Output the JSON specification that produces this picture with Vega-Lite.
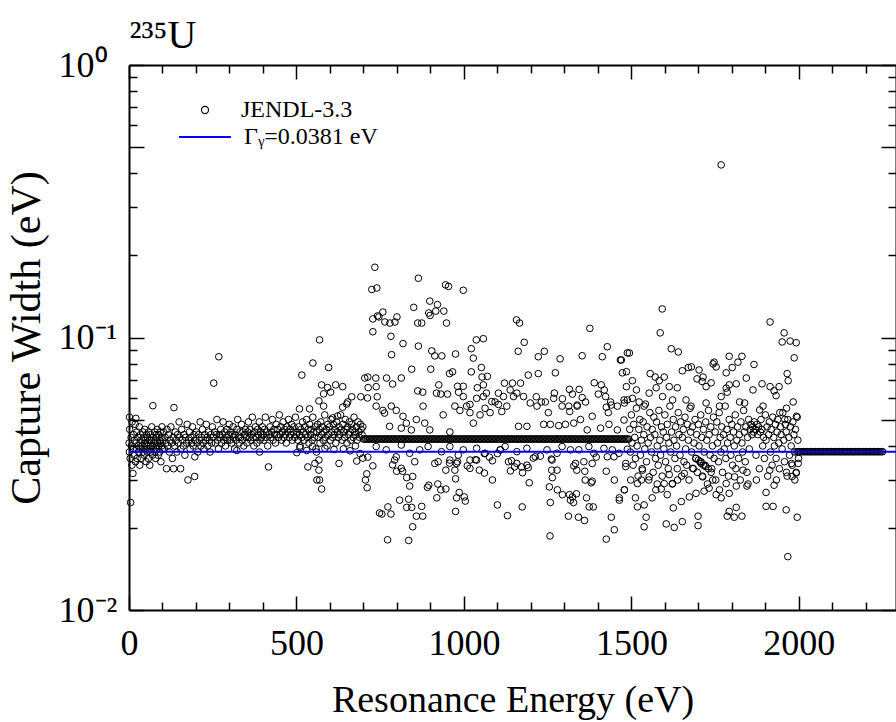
{
"$schema": "https://vega.github.io/schema/vega-lite/v6.json",
"width": 767, "height": 545,
"autosize": "none",
"padding": {"left": 129, "top": 65, "right": 0, "bottom": 112},
"background": "white",
"config": {
 "view": {"stroke": null},
 "axis": {"grid": false, "domainColor": "black", "domainWidth": 2, "tickColor": "black", "tickWidth": 1.5, "labelFont": "Liberation Serif", "titleFont": "Liberation Serif", "labelColor": "black", "titleColor": "black", "titleFontWeight": "normal", "labelFlush": false, "labelOverlap": false, "labelBound": false},
 "legend": {"labelFont": "Liberation Serif", "labelColor": "black", "labelFontSize": 24, "title": null, "padding": 0}
},
"datasets": {"pts": [
{"e":0.3,"g":0.041},{"e":1.1,"g":0.038},{"e":1.5,"g":0.051},{"e":2.0,"g":0.046},{"e":3.6,"g":0.036},{"e":4.8,"g":0.0248},{"e":6.4,"g":0.043},{"e":7.1,"g":0.040},{"e":8.8,"g":0.034},{"e":9.3,"g":0.049},{"e":11.7,"g":0.0317},{"e":12.4,"g":0.039},{"e":13.3,"g":0.044},{"e":15.4,"g":0.037},{"e":16.1,"g":0.042},{"e":18.5,"g":0.048},{"e":19.3,"g":0.035},{"e":20.5,"g":0.0505},{"e":21.1,"g":0.041},{"e":22.9,"g":0.039},{"e":23.4,"g":0.045},{"e":24.3,"g":0.036},{"e":26.5,"g":0.043},{"e":27.8,"g":0.040},{"e":28.7,"g":0.038},{"e":30.6,"g":0.047},{"e":32.1,"g":0.034},{"e":33.5,"g":0.041},{"e":34.4,"g":0.044},{"e":35.2,"g":0.039},{"e":36.4,"g":0.036},{"e":38.4,"g":0.042},{"e":39.4,"g":0.040},{"e":41.1,"g":0.045},{"e":41.9,"g":0.038},{"e":44.5,"g":0.043},{"e":45.2,"g":0.037},{"e":46.5,"g":0.041},{"e":47.0,"g":0.046},{"e":48.3,"g":0.039},{"e":49.4,"g":0.042},{"e":51.1,"g":0.035},{"e":52.3,"g":0.044},{"e":53.5,"g":0.040},{"e":54.3,"g":0.038},{"e":55.2,"g":0.043},{"e":56.5,"g":0.041},{"e":57.9,"g":0.036},{"e":58.7,"g":0.045},{"e":60.1,"g":0.039},{"e":61.1,"g":0.042},{"e":62.0,"g":0.034},{"e":63.5,"g":0.040},{"e":64.3,"g":0.044},{"e":65.3,"g":0.038},{"e":66.5,"g":0.042},{"e":67.8,"g":0.047},{"e":69.2,"g":0.040},{"e":70.2,"g":0.037},{"e":71.2,"g":0.0562},{"e":72.5,"g":0.043},{"e":73.7,"g":0.039},{"e":74.7,"g":0.041},{"e":76.6,"g":0.045},{"e":77.3,"g":0.038},{"e":78.2,"g":0.042},{"e":79.6,"g":0.036},{"e":80.7,"g":0.044},{"e":81.6,"g":0.040},{"e":82.7,"g":0.043},{"e":83.8,"g":0.039},{"e":84.3,"g":0.046},{"e":85.7,"g":0.041},{"e":87.4,"g":0.037},{"e":88.5,"g":0.044},{"e":89.1,"g":0.040},{"e":90.9,"g":0.042},{"e":91.8,"g":0.038},{"e":93.1,"g":0.045},{"e":94.1,"g":0.041},{"e":95.3,"g":0.035},{"e":96.2,"g":0.043},{"e":97.4,"g":0.040},{"e":98.5,"g":0.047},{"e":99.4,"g":0.039},
{"e":101.2,"g":0.042},{"e":103.5,"g":0.045},{"e":105.1,"g":0.039},{"e":107.9,"g":0.043},{"e":110.5,"g":0.041},{"e":112,"g":0.033},{"e":113.6,"g":0.046},{"e":115.8,"g":0.040},{"e":118.2,"g":0.044},{"e":120.5,"g":0.038},{"e":122.8,"g":0.042},{"e":124.9,"g":0.047},{"e":127.1,"g":0.041},{"e":129.5,"g":0.036},{"e":131.4,"g":0.043},{"e":133,"g":0.033},{"e":134.2,"g":0.0553},{"e":136.3,"g":0.040},{"e":138.1,"g":0.045},{"e":140.7,"g":0.042},{"e":142.9,"g":0.038},{"e":145,"g":0.044},{"e":147.3,"g":0.041},{"e":149.6,"g":0.049},
{"e":151.6,"g":0.043},{"e":154,"g":0.033},{"e":155.1,"g":0.039},{"e":157.4,"g":0.046},{"e":159.8,"g":0.042},{"e":162.2,"g":0.040},{"e":164.5,"g":0.044},{"e":166.9,"g":0.037},{"e":169.2,"g":0.043},{"e":171.6,"g":0.041},{"e":173.8,"g":0.048},{"e":176,"g":0.030},{"e":177.9,"g":0.042},{"e":180.3,"g":0.045},{"e":182.6,"g":0.039},{"e":184.8,"g":0.043},{"e":187.1,"g":0.041},{"e":189.5,"g":0.047},{"e":191.7,"g":0.040},{"e":194,"g":0.044},{"e":196,"g":0.0309},{"e":196.5,"g":0.0365},{"e":198.3,"g":0.042},
{"e":200.8,"g":0.045},{"e":203.1,"g":0.041},{"e":205.5,"g":0.038},{"e":207.7,"g":0.044},{"e":210.1,"g":0.042},{"e":212.4,"g":0.049},{"e":214.6,"g":0.040},{"e":216.9,"g":0.043},{"e":219.3,"g":0.046},{"e":221.5,"g":0.041},{"e":223.8,"g":0.039},{"e":226.2,"g":0.044},{"e":228.4,"g":0.042},{"e":230.7,"g":0.048},{"e":233,"g":0.043},{"e":235.3,"g":0.040},{"e":237.6,"g":0.045},{"e":239.9,"g":0.042},{"e":242.1,"g":0.038},{"e":244.5,"g":0.044},{"e":246.8,"g":0.041},{"e":249,"g":0.047},
{"e":251.3,"g":0.043},{"e":253,"g":0.068},{"e":255.7,"g":0.045},{"e":258,"g":0.041},{"e":260.3,"g":0.044},{"e":262.5,"g":0.050},{"e":264.9,"g":0.042},{"e":267.1,"g":0.039},{"e":268,"g":0.085},{"e":269.5,"g":0.044},{"e":271.8,"g":0.043},{"e":274.1,"g":0.046},{"e":276.4,"g":0.041},{"e":278.6,"g":0.044},{"e":281,"g":0.049},{"e":283.2,"g":0.042},{"e":285.6,"g":0.045},{"e":287.8,"g":0.040},{"e":290.1,"g":0.043},{"e":292.5,"g":0.046},{"e":294.8,"g":0.042},{"e":297,"g":0.044},{"e":299.3,"g":0.048},
{"e":301.6,"g":0.042},{"e":303.9,"g":0.045},{"e":306.2,"g":0.041},{"e":308.4,"g":0.044},{"e":310.8,"g":0.047},{"e":313,"g":0.043},{"e":315.3,"g":0.039},{"e":317.6,"g":0.044},{"e":319.9,"g":0.042},{"e":322,"g":0.0385},{"e":322.2,"g":0.046},{"e":324.5,"g":0.050},{"e":326.8,"g":0.043},{"e":329.1,"g":0.041},{"e":331.4,"g":0.045},{"e":333.7,"g":0.043},{"e":336,"g":0.048},{"e":338.3,"g":0.042},{"e":340.6,"g":0.045},{"e":342.8,"g":0.040},{"e":345.1,"g":0.044},{"e":347.5,"g":0.046},
{"e":349.8,"g":0.043},{"e":352.1,"g":0.041},{"e":354.4,"g":0.045},{"e":356.7,"g":0.049},{"e":359,"g":0.043},{"e":361.3,"g":0.046},{"e":363.6,"g":0.042},{"e":365.9,"g":0.044},{"e":368.2,"g":0.051},{"e":370.5,"g":0.043},{"e":372.8,"g":0.040},{"e":375.1,"g":0.045},{"e":377.4,"g":0.047},{"e":379.7,"g":0.043},{"e":382,"g":0.041},{"e":384.3,"g":0.046},{"e":386.6,"g":0.044},{"e":388.9,"g":0.049},{"e":390,"g":0.038},{"e":391.2,"g":0.042},{"e":393.5,"g":0.045},{"e":395.8,"g":0.043},{"e":398.1,"g":0.047},
{"e":400.4,"g":0.044},{"e":402.7,"g":0.042},{"e":405,"g":0.046},{"e":407.3,"g":0.051},{"e":409.6,"g":0.043},{"e":411.9,"g":0.045},{"e":414.2,"g":0.040},{"e":416.5,"g":0.0335},{"e":418.8,"g":0.044},{"e":421.1,"g":0.047},{"e":423.4,"g":0.043},{"e":425.7,"g":0.045},{"e":428,"g":0.050},{"e":430.3,"g":0.042},{"e":432.6,"g":0.046},{"e":434.9,"g":0.044},{"e":437.2,"g":0.041},{"e":439.5,"g":0.048},{"e":441.8,"g":0.044},{"e":444.1,"g":0.046},{"e":446.4,"g":0.043},{"e":448.7,"g":0.052},
{"e":451,"g":0.044},{"e":453.3,"g":0.047},{"e":455.6,"g":0.042},{"e":457.9,"g":0.045},{"e":460.2,"g":0.049},{"e":462.5,"g":0.043},{"e":464.8,"g":0.046},{"e":467.1,"g":0.044},{"e":469.4,"g":0.041},{"e":471.7,"g":0.047},{"e":474,"g":0.045},{"e":476.3,"g":0.050},{"e":478.6,"g":0.043},{"e":480.9,"g":0.046},{"e":483.2,"g":0.044},{"e":485.5,"g":0.048},{"e":487.8,"g":0.042},{"e":490.1,"g":0.045},{"e":492.4,"g":0.047},{"e":494.7,"g":0.043},{"e":497,"g":0.051},{"e":499.3,"g":0.044},{"e":501,"g":0.0378},
{"e":501.5,"g":0.045},{"e":504,"g":0.042},{"e":506.3,"g":0.047},{"e":508.8,"g":0.044},{"e":510,"g":0.0395},{"e":511,"g":0.040},{"e":513.4,"g":0.046},{"e":515.9,"g":0.043},{"e":518.1,"g":0.049},{"e":520.6,"g":0.045},{"e":523,"g":0.042},{"e":525.3,"g":0.047},{"e":527.7,"g":0.044},{"e":530,"g":0.050},{"e":530.5,"g":0.0385},{"e":532.5,"g":0.043},{"e":534.8,"g":0.046},{"e":537.1,"g":0.041},{"e":539.5,"g":0.048},{"e":541.9,"g":0.044},{"e":544.2,"g":0.046},{"e":546.6,"g":0.042},{"e":548,"g":0.0398},{"e":549,"g":0.051},{"e":551.3,"g":0.045},{"e":553.7,"g":0.043},{"e":556,"g":0.047},{"e":558.4,"g":0.039},{"e":560,"g":0.038},{"e":560.8,"g":0.045},{"e":563.1,"g":0.048},{"e":565.5,"g":0.043},{"e":567.9,"g":0.046},{"e":570.2,"g":0.041},{"e":572.6,"g":0.049},{"e":575,"g":0.044},{"e":577.3,"g":0.047},{"e":579.7,"g":0.042},{"e":582,"g":0.045},{"e":584.4,"g":0.052},{"e":585,"g":0.0392},{"e":586.8,"g":0.043},{"e":589.1,"g":0.046},{"e":591.5,"g":0.040},{"e":593.8,"g":0.048},{"e":596.2,"g":0.044},{"e":598.6,"g":0.047},{"e":601,"g":0.042},{"e":603.3,"g":0.050},{"e":605.7,"g":0.045},{"e":608,"g":0.043},{"e":610.4,"g":0.048},{"e":612,"g":0.0388},{"e":612.8,"g":0.044},{"e":615.1,"g":0.046},{"e":617.5,"g":0.041},{"e":619.9,"g":0.049},{"e":622.2,"g":0.045},{"e":624.6,"g":0.043},{"e":627,"g":0.047},{"e":629.3,"g":0.044},{"e":631.7,"g":0.052},{"e":634,"g":0.046},{"e":636.4,"g":0.042},{"e":638.8,"g":0.048},{"e":640,"g":0.039},{"e":641.1,"g":0.045},{"e":643.5,"g":0.043},{"e":645.9,"g":0.050},{"e":648.2,"g":0.046},{"e":650.6,"g":0.041},{"e":653,"g":0.047},{"e":655.3,"g":0.044},{"e":657.7,"g":0.049},{"e":660,"g":0.0384},{"e":660.1,"g":0.045},{"e":662.4,"g":0.042},{"e":664.8,"g":0.048},{"e":667.2,"g":0.046},{"e":669.5,"g":0.043},{"e":671.9,"g":0.051},{"e":674.3,"g":0.045},{"e":676,"g":0.040},{"e":676.6,"g":0.044},{"e":679,"g":0.047},{"e":681.4,"g":0.042},{"e":683.7,"g":0.049},{"e":686.1,"g":0.045},{"e":688.5,"g":0.043},{"e":690,"g":0.0375},{"e":690.8,"g":0.048},{"e":693.2,"g":0.046},{"e":695.6,"g":0.044},{"e":698,"g":0.047},
{"e":569,"g":0.098},{"e":549,"g":0.0806},{"e":596,"g":0.0776},{"e":516,"g":0.0728},{"e":575,"g":0.067},{"e":593,"g":0.0655},{"e":581,"g":0.0621},{"e":602,"g":0.063},{"e":617,"g":0.067},{"e":638,"g":0.066},{"e":567,"g":0.0585},{"e":581,"g":0.056},{"e":534,"g":0.0335},{"e":555,"g":0.0345},{"e":567,"g":0.0326},{"e":561,"g":0.030},{"e":567,"g":0.0355},{"e":575,"g":0.0278},{"e":569,"g":0.030},{"e":627,"g":0.0345},{"e":680,"g":0.0352},{"e":698,"g":0.0361},{"e":710,"g":0.0316},{"e":706,"g":0.030},{"e":711,"g":0.0281},{"e":728,"g":0.0338},{"e":713,"g":0.0364},{"e":748,"g":0.0227},{"e":704,"g":0.071},{"e":713,"g":0.0716},{"e":737,"g":0.071},{"e":714,"g":0.0655},{"e":738,"g":0.066},{"e":712,"g":0.060},{"e":692,"g":0.0606},{"e":741,"g":0.0606},{"e":665,"g":0.0606},{"e":650,"g":0.057},{"e":653,"g":0.058},{"e":638,"g":0.0555},{"e":623,"g":0.0515},{"e":608,"g":0.0507},{"e":509,"g":0.0547},{"e":539,"g":0.0547},
{"e":734,"g":0.181},{"e":725,"g":0.15},{"e":740,"g":0.152},{"e":728,"g":0.117},{"e":742,"g":0.12},{"e":728,"g":0.105},
{"e":700,"g":0.0424},{"e":704,"g":0.0424},{"e":708,"g":0.0424},{"e":712,"g":0.0424},{"e":716,"g":0.0424},{"e":720,"g":0.0424},{"e":724,"g":0.0424},{"e":728,"g":0.0424},{"e":732,"g":0.0424},{"e":736,"g":0.0424},{"e":740,"g":0.0424},{"e":744,"g":0.0424},{"e":748,"g":0.0424},{"e":752,"g":0.0424},{"e":756,"g":0.0424},{"e":760,"g":0.0424},{"e":764,"g":0.0424},{"e":768,"g":0.0424},{"e":772,"g":0.0424},{"e":776,"g":0.0424},{"e":780,"g":0.0424},{"e":784,"g":0.0424},{"e":788,"g":0.0424},{"e":792,"g":0.0424},{"e":796,"g":0.0424},{"e":800,"g":0.0424},{"e":804,"g":0.0424},{"e":808,"g":0.0424},{"e":812,"g":0.0424},{"e":816,"g":0.0424},{"e":820,"g":0.0424},{"e":824,"g":0.0424},{"e":828,"g":0.0424},{"e":832,"g":0.0424},{"e":836,"g":0.0424},{"e":840,"g":0.0424},{"e":844,"g":0.0424},{"e":848,"g":0.0424},{"e":852,"g":0.0424},{"e":856,"g":0.0424},{"e":860,"g":0.0424},{"e":864,"g":0.0424},{"e":868,"g":0.0424},{"e":872,"g":0.0424},{"e":876,"g":0.0424},{"e":880,"g":0.0424},{"e":884,"g":0.0424},{"e":888,"g":0.0424},{"e":892,"g":0.0424},{"e":896,"g":0.0424},{"e":900,"g":0.0424},{"e":904,"g":0.0424},{"e":908,"g":0.0424},{"e":912,"g":0.0424},{"e":916,"g":0.0424},{"e":920,"g":0.0424},{"e":924,"g":0.0424},{"e":928,"g":0.0424},{"e":932,"g":0.0424},{"e":936,"g":0.0424},{"e":940,"g":0.0424},{"e":944,"g":0.0424},{"e":948,"g":0.0424},{"e":952,"g":0.0424},{"e":956,"g":0.0424},{"e":960,"g":0.0424},{"e":964,"g":0.0424},{"e":968,"g":0.0424},{"e":972,"g":0.0424},{"e":976,"g":0.0424},{"e":980,"g":0.0424},{"e":984,"g":0.0424},{"e":988,"g":0.0424},{"e":992,"g":0.0424},{"e":996,"g":0.0424},{"e":1000,"g":0.0424},{"e":1004,"g":0.0424},{"e":1008,"g":0.0424},{"e":1012,"g":0.0424},{"e":1016,"g":0.0424},{"e":1020,"g":0.0424},{"e":1024,"g":0.0424},{"e":1028,"g":0.0424},{"e":1032,"g":0.0424},{"e":1036,"g":0.0424},{"e":1040,"g":0.0424},{"e":1044,"g":0.0424},{"e":1048,"g":0.0424},{"e":1052,"g":0.0424},{"e":1056,"g":0.0424},{"e":1060,"g":0.0424},{"e":1064,"g":0.0424},{"e":1068,"g":0.0424},{"e":1072,"g":0.0424},{"e":1076,"g":0.0424},{"e":1080,"g":0.0424},{"e":1084,"g":0.0424},{"e":1088,"g":0.0424},{"e":1092,"g":0.0424},{"e":1096,"g":0.0424},{"e":1100,"g":0.0424},{"e":1104,"g":0.0424},{"e":1108,"g":0.0424},{"e":1112,"g":0.0424},{"e":1116,"g":0.0424},{"e":1120,"g":0.0424},{"e":1124,"g":0.0424},{"e":1128,"g":0.0424},{"e":1132,"g":0.0424},{"e":1136,"g":0.0424},{"e":1140,"g":0.0424},{"e":1144,"g":0.0424},{"e":1148,"g":0.0424},{"e":1152,"g":0.0424},{"e":1156,"g":0.0424},{"e":1160,"g":0.0424},{"e":1164,"g":0.0424},{"e":1168,"g":0.0424},{"e":1172,"g":0.0424},{"e":1176,"g":0.0424},{"e":1180,"g":0.0424},{"e":1184,"g":0.0424},{"e":1188,"g":0.0424},{"e":1192,"g":0.0424},{"e":1196,"g":0.0424},{"e":1200,"g":0.0424},{"e":1204,"g":0.0424},{"e":1208,"g":0.0424},{"e":1212,"g":0.0424},{"e":1216,"g":0.0424},{"e":1220,"g":0.0424},{"e":1224,"g":0.0424},{"e":1228,"g":0.0424},{"e":1232,"g":0.0424},{"e":1236,"g":0.0424},{"e":1240,"g":0.0424},{"e":1244,"g":0.0424},{"e":1248,"g":0.0424},{"e":1252,"g":0.0424},{"e":1256,"g":0.0424},{"e":1260,"g":0.0424},{"e":1264,"g":0.0424},{"e":1268,"g":0.0424},{"e":1272,"g":0.0424},{"e":1276,"g":0.0424},{"e":1280,"g":0.0424},{"e":1284,"g":0.0424},{"e":1288,"g":0.0424},{"e":1292,"g":0.0424},{"e":1296,"g":0.0424},{"e":1300,"g":0.0424},{"e":1304,"g":0.0424},{"e":1308,"g":0.0424},{"e":1312,"g":0.0424},{"e":1316,"g":0.0424},{"e":1320,"g":0.0424},{"e":1324,"g":0.0424},{"e":1328,"g":0.0424},{"e":1332,"g":0.0424},{"e":1336,"g":0.0424},{"e":1340,"g":0.0424},{"e":1344,"g":0.0424},{"e":1348,"g":0.0424},{"e":1352,"g":0.0424},{"e":1356,"g":0.0424},{"e":1360,"g":0.0424},{"e":1364,"g":0.0424},{"e":1368,"g":0.0424},{"e":1372,"g":0.0424},{"e":1376,"g":0.0424},{"e":1380,"g":0.0424},{"e":1384,"g":0.0424},{"e":1388,"g":0.0424},{"e":1392,"g":0.0424},{"e":1396,"g":0.0424},{"e":1400,"g":0.0424},{"e":1404,"g":0.0424},{"e":1408,"g":0.0424},{"e":1412,"g":0.0424},{"e":1416,"g":0.0424},{"e":1420,"g":0.0424},{"e":1424,"g":0.0424},{"e":1428,"g":0.0424},{"e":1432,"g":0.0424},{"e":1436,"g":0.0424},{"e":1440,"g":0.0424},{"e":1444,"g":0.0424},{"e":1448,"g":0.0424},{"e":1452,"g":0.0424},{"e":1456,"g":0.0424},{"e":1460,"g":0.0424},{"e":1464,"g":0.0424},{"e":1468,"g":0.0424},{"e":1472,"g":0.0424},{"e":1476,"g":0.0424},{"e":1480,"g":0.0424},{"e":1484,"g":0.0424},{"e":1488,"g":0.0424},{"e":1492,"g":0.0424},
{"e":864,"g":0.165},{"e":945,"g":0.156},{"e":954,"g":0.154},{"e":998,"g":0.149},{"e":898,"g":0.136},{"e":921,"g":0.132},{"e":940,"g":0.125},{"e":916,"g":0.125},{"e":895,"g":0.123},{"e":899,"g":0.1205},{"e":850,"g":0.129},{"e":758,"g":0.124},{"e":746,"g":0.119},{"e":800,"g":0.119},{"e":764,"g":0.114},{"e":779,"g":0.113},{"e":794,"g":0.114},{"e":862,"g":0.113},{"e":874,"g":0.113},{"e":948,"g":0.113},{"e":1157,"g":0.116},{"e":1166,"g":0.113},{"e":1376,"g":0.108},{"e":782,"g":0.101},{"e":818,"g":0.095},{"e":864,"g":0.093},{"e":1037,"g":0.098},{"e":1058,"g":0.099},{"e":1022,"g":0.091},{"e":1028,"g":0.084},{"e":1180,"g":0.096},{"e":1162,"g":0.089},{"e":1240,"g":0.089},{"e":1222,"g":0.085},{"e":1287,"g":0.0835},{"e":1353,"g":0.0857},{"e":1428,"g":0.0925},{"e":1413,"g":0.085},{"e":1467,"g":0.0827},{"e":1488,"g":0.0878},{"e":784,"g":0.0865},{"e":904,"g":0.0893},{"e":913,"g":0.0856},{"e":934,"g":0.0856},{"e":901,"g":0.0765},{"e":844,"g":0.0765},{"e":975,"g":0.087},{"e":966,"g":0.0748},{"e":957,"g":0.0737},{"e":769,"g":0.071},{"e":813,"g":0.071},{"e":787,"g":0.0675},{"e":862,"g":0.0637},{"e":877,"g":0.063},{"e":925,"g":0.067},{"e":931,"g":0.062},{"e":951,"g":0.062},{"e":981,"g":0.0662},{"e":998,"g":0.0662},{"e":984,"g":0.063},{"e":1022,"g":0.0748},{"e":1052,"g":0.0776},{"e":1070,"g":0.072},{"e":1054,"g":0.0716},{"e":1058,"g":0.067},{"e":1067,"g":0.0625},{"e":1040,"g":0.0654},{"e":1121,"g":0.068},{"e":1145,"g":0.068},{"e":1169,"g":0.068},{"e":1192,"g":0.0728},{"e":1222,"g":0.0737},{"e":1273,"g":0.0742},{"e":1216,"g":0.0606},{"e":1231,"g":0.058},{"e":1252,"g":0.053},{"e":1270,"g":0.0625},{"e":1294,"g":0.0596},{"e":1315,"g":0.0645},{"e":1324,"g":0.062},{"e":1344,"g":0.0645},{"e":1353,"g":0.0602},{"e":1338,"g":0.0565},{"e":1316,"g":0.0535},{"e":1389,"g":0.0682},{"e":1410,"g":0.067},{"e":1419,"g":0.0642},{"e":1401,"g":0.062},{"e":1425,"g":0.0555},{"e":1440,"g":0.0565},{"e":1431,"g":0.053},{"e":1479,"g":0.0575},{"e":1485,"g":0.066},{"e":1473,"g":0.0742},
{"e":758,"g":0.054},{"e":783,"g":0.056},{"e":798,"g":0.054},{"e":818,"g":0.0514},{"e":858,"g":0.050},{"e":883,"g":0.0485},{"e":898,"g":0.0458},{"e":938,"g":0.052},{"e":958,"g":0.045},{"e":988,"g":0.054},{"e":1008,"g":0.056},{"e":1018,"g":0.053},{"e":1028,"g":0.0485},{"e":1048,"g":0.052},{"e":1063,"g":0.055},{"e":1078,"g":0.053},{"e":1093,"g":0.058},{"e":1103,"g":0.0568},{"e":1113,"g":0.0535},{"e":1128,"g":0.056},{"e":1148,"g":0.0607},{"e":1163,"g":0.0472},{"e":1188,"g":0.0472},{"e":1238,"g":0.048},{"e":1258,"g":0.048},{"e":1283,"g":0.0475},{"e":1303,"g":0.048},{"e":1328,"g":0.0485},{"e":1348,"g":0.050},{"e":1368,"g":0.0458},{"e":1408,"g":0.0465},{"e":1433,"g":0.048},{"e":1458,"g":0.0458},{"e":1478,"g":0.0498},
{"e":738,"g":0.056},{"e":763,"g":0.0528},{"e":778,"g":0.0472},{"e":813,"g":0.0465},{"e":828,"g":0.0485},{"e":843,"g":0.0458},{"e":878,"g":0.056},{"e":918,"g":0.0625},{"e":973,"g":0.056},{"e":998,"g":0.0607},{"e":1018,"g":0.0568},{"e":1038,"g":0.0598},{"e":1058,"g":0.0607},{"e":1083,"g":0.0582},{"e":1103,"g":0.0625},{"e":1118,"g":0.0607},{"e":1138,"g":0.0642},{"e":1158,"g":0.0625},{"e":1178,"g":0.0607},{"e":1198,"g":0.0575},{"e":1218,"g":0.056},{"e":1243,"g":0.058},{"e":1268,"g":0.0598},{"e":1293,"g":0.056},{"e":1313,"g":0.056},{"e":1338,"g":0.056},{"e":1363,"g":0.058},{"e":1383,"g":0.0514},{"e":1423,"g":0.0607},{"e":1438,"g":0.058},{"e":1458,"g":0.056},{"e":1488,"g":0.059},
{"e":738,"g":0.0398},{"e":768,"g":0.0387},{"e":798,"g":0.0365},{"e":813,"g":0.0403},{"e":838,"g":0.0376},{"e":868,"g":0.0387},{"e":893,"g":0.0398},{"e":913,"g":0.0345},{"e":933,"g":0.0381},{"e":958,"g":0.0398},{"e":983,"g":0.037},{"e":998,"g":0.0387},{"e":1018,"g":0.0355},{"e":1038,"g":0.0392},{"e":1063,"g":0.0376},{"e":1108,"g":0.0387},{"e":1123,"g":0.0398},{"e":1158,"g":0.0381},{"e":1188,"g":0.0392},{"e":1213,"g":0.0365},{"e":1248,"g":0.0387},{"e":1278,"g":0.0376},{"e":1293,"g":0.0398},{"e":1318,"g":0.0387},{"e":1343,"g":0.0387},{"e":1373,"g":0.0398},{"e":1388,"g":0.0376},{"e":1418,"g":0.0392},{"e":1443,"g":0.0387},{"e":1463,"g":0.0376},{"e":1488,"g":0.0389},
{"e":793,"g":0.0355},{"e":813,"g":0.0331},{"e":853,"g":0.035},{"e":923,"g":0.035},{"e":958,"g":0.0355},{"e":978,"g":0.0345},{"e":1018,"g":0.0331},{"e":1038,"g":0.0355},{"e":1133,"g":0.035},{"e":1158,"g":0.0345},{"e":1188,"g":0.034},{"e":1263,"g":0.0355},{"e":1278,"g":0.0326},{"e":1333,"g":0.0345},{"e":1358,"g":0.035},{"e":1383,"g":0.0345},{"e":1428,"g":0.0365},{"e":1448,"g":0.0365},{"e":1483,"g":0.0345},
{"e":755,"g":0.0225},{"e":773,"g":0.0239},{"e":782,"g":0.0225},{"e":808,"g":0.0253},{"e":829,"g":0.0238},{"e":835,"g":0.0255},{"e":844,"g":0.0238},{"e":858,"g":0.0221},{"e":877,"g":0.0221},{"e":874,"g":0.024},{"e":847,"g":0.0202},{"e":838,"g":0.0285},{"e":847,"g":0.0309},{"e":829,"g":0.0306},{"e":817,"g":0.0323},{"e":799,"g":0.0323},{"e":787,"g":0.0341},{"e":891,"g":0.0282},{"e":895,"g":0.0287},{"e":919,"g":0.0258},{"e":922,"g":0.029},{"e":931,"g":0.0276},{"e":946,"g":0.0278},{"e":975,"g":0.023},{"e":978,"g":0.0258},{"e":1001,"g":0.026},{"e":1004,"g":0.0251},{"e":986,"g":0.027},{"e":946,"g":0.0326},{"e":973,"g":0.0326},{"e":975,"g":0.0303},{"e":957,"g":0.0346},{"e":981,"g":0.035},{"e":1010,"g":0.0338},{"e":1034,"g":0.0356},{"e":1046,"g":0.0326},{"e":1061,"g":0.0318},{"e":1085,"g":0.030},{"e":1100,"g":0.0243},{"e":1130,"g":0.0222},{"e":1174,"g":0.0239},{"e":1142,"g":0.0353},{"e":1151,"g":0.0335},{"e":1139,"g":0.0324},{"e":1172,"g":0.0335},{"e":1175,"g":0.0319},{"e":1192,"g":0.0333},{"e":1207,"g":0.0361},{"e":1228,"g":0.0367},{"e":1195,"g":0.0293},{"e":1261,"g":0.0358},{"e":1262,"g":0.0326},{"e":1264,"g":0.0306},{"e":1255,"g":0.0283},{"e":1279,"g":0.0276},{"e":1294,"g":0.0265},{"e":1315,"g":0.0265},{"e":1324,"g":0.026},{"e":1336,"g":0.0267},{"e":1327,"g":0.0248},{"e":1318,"g":0.0253},{"e":1258,"g":0.0248},{"e":1312,"g":0.0221},{"e":1342,"g":0.0219},{"e":1360,"g":0.0213},{"e":1328,"g":0.0338},{"e":1337,"g":0.0326},{"e":1361,"g":0.0323},{"e":1383,"g":0.0297},{"e":1380,"g":0.0293},{"e":1362,"g":0.030},{"e":1366,"g":0.0258},{"e":1374,"g":0.0239},{"e":1386,"g":0.0239},{"e":1395,"g":0.0364},{"e":1425,"g":0.0323},{"e":1449,"g":0.030},{"e":1440,"g":0.0219},{"e":1464,"g":0.0258},{"e":1479,"g":0.0276},{"e":1449,"g":0.0197},{"e":1100,"g":0.0375},{"e":1109,"g":0.0387},{"e":1076,"g":0.0364},{"e":1085,"g":0.0353},{"e":1061,"g":0.0375},
{"e":772,"g":0.0181},{"e":835,"g":0.018},{"e":1257,"g":0.0187},{"e":1425,"g":0.0182},
{"e":1495,"g":0.046},{"e":1497,"g":0.038},{"e":1500,"g":0.052},{"e":1502,"g":0.041},{"e":1505,"g":0.034},{"e":1507,"g":0.048},{"e":1510,"g":0.043},{"e":1512,"g":0.036},{"e":1515,"g":0.055},{"e":1517,"g":0.040},{"e":1520,"g":0.031},{"e":1522,"g":0.046},{"e":1525,"g":0.050},{"e":1527,"g":0.037},{"e":1530,"g":0.042},{"e":1532,"g":0.033},{"e":1535,"g":0.049},{"e":1537,"g":0.044},{"e":1540,"g":0.039},{"e":1542,"g":0.057},{"e":1545,"g":0.035},{"e":1547,"g":0.047},{"e":1550,"g":0.041},{"e":1552,"g":0.030},{"e":1555,"g":0.053},{"e":1557,"g":0.043},{"e":1560,"g":0.038},{"e":1562,"g":0.046},{"e":1565,"g":0.032},{"e":1567,"g":0.051},{"e":1570,"g":0.044},{"e":1572,"g":0.036},{"e":1575,"g":0.049},{"e":1577,"g":0.040},{"e":1580,"g":0.034},{"e":1582,"g":0.054},{"e":1585,"g":0.042},{"e":1587,"g":0.037},{"e":1590,"g":0.047},{"e":1592,"g":0.031},{"e":1595,"g":0.045},{"e":1597,"g":0.039},{"e":1600,"g":0.052},{"e":1602,"g":0.035},{"e":1605,"g":0.043},{"e":1607,"g":0.048},{"e":1610,"g":0.033},{"e":1612,"g":0.041},{"e":1615,"g":0.056},{"e":1617,"g":0.038},{"e":1620,"g":0.045},{"e":1622,"g":0.029},{"e":1625,"g":0.050},{"e":1627,"g":0.042},{"e":1630,"g":0.036},{"e":1632,"g":0.047},{"e":1635,"g":0.040},{"e":1637,"g":0.033},{"e":1640,"g":0.053},{"e":1642,"g":0.044},{"e":1645,"g":0.037},{"e":1647,"g":0.049},{"e":1650,"g":0.031},{"e":1652,"g":0.043},{"e":1655,"g":0.046},{"e":1657,"g":0.035},{"e":1660,"g":0.051},{"e":1662,"g":0.039},{"e":1665,"g":0.034},{"e":1667,"g":0.048},{"e":1670,"g":0.042},{"e":1672,"g":0.030},{"e":1675,"g":0.055},{"e":1677,"g":0.045},{"e":1680,"g":0.038},{"e":1682,"g":0.047},{"e":1685,"g":0.033},{"e":1687,"g":0.041},{"e":1690,"g":0.050},{"e":1692,"g":0.036},{"e":1695,"g":0.044},{"e":1697,"g":0.032},{"e":1700,"g":0.048},{"e":1702,"g":0.040},{"e":1705,"g":0.035},{"e":1707,"g":0.052},{"e":1710,"g":0.043},{"e":1712,"g":0.031},{"e":1715,"g":0.046},{"e":1717,"g":0.038},{"e":1720,"g":0.034},{"e":1722,"g":0.049},{"e":1725,"g":0.042},{"e":1727,"g":0.029},{"e":1730,"g":0.054},{"e":1732,"g":0.044},{"e":1735,"g":0.037},{"e":1737,"g":0.047},{"e":1740,"g":0.033},{"e":1742,"g":0.040},{"e":1745,"g":0.051},{"e":1747,"g":0.036},{"e":1750,"g":0.045},{"e":1752,"g":0.030},{"e":1755,"g":0.049},{"e":1757,"g":0.041},{"e":1760,"g":0.035},{"e":1762,"g":0.053},{"e":1765,"g":0.043},{"e":1767,"g":0.038},{"e":1770,"g":0.047},{"e":1772,"g":0.032},{"e":1775,"g":0.044},{"e":1777,"g":0.039},{"e":1780,"g":0.056},{"e":1782,"g":0.036},{"e":1785,"g":0.046},{"e":1787,"g":0.041},{"e":1790,"g":0.031},{"e":1792,"g":0.050},{"e":1795,"g":0.043},{"e":1797,"g":0.037},{"e":1800,"g":0.048},{"e":1802,"g":0.034},{"e":1805,"g":0.045},{"e":1807,"g":0.040},{"e":1810,"g":0.052},{"e":1812,"g":0.033},{"e":1815,"g":0.042},{"e":1817,"g":0.047},{"e":1820,"g":0.036},{"e":1822,"g":0.044},{"e":1825,"g":0.030},{"e":1827,"g":0.049},{"e":1830,"g":0.041},{"e":1832,"g":0.038},{"e":1835,"g":0.054},{"e":1837,"g":0.045},{"e":1840,"g":0.035},{"e":1842,"g":0.047},{"e":1845,"g":0.032},{"e":1847,"g":0.043},{"e":1850,"g":0.050},{"e":1852,"g":0.039},{"e":1855,"g":0.046},{"e":1857,"g":0.048},{"e":1860,"g":0.044},{"e":1862,"g":0.047},{"e":1865,"g":0.045},{"e":1867,"g":0.049},{"e":1870,"g":0.046},{"e":1872,"g":0.037},{"e":1875,"g":0.048},{"e":1877,"g":0.044},{"e":1880,"g":0.047},{"e":1882,"g":0.033},{"e":1885,"g":0.045},{"e":1887,"g":0.050},{"e":1890,"g":0.046},{"e":1892,"g":0.040},{"e":1895,"g":0.043},{"e":1897,"g":0.036},{"e":1900,"g":0.052},{"e":1902,"g":0.042},{"e":1905,"g":0.047},{"e":1907,"g":0.031},{"e":1910,"g":0.044},{"e":1912,"g":0.049},{"e":1915,"g":0.038},{"e":1917,"g":0.046},{"e":1920,"g":0.034},{"e":1922,"g":0.051},{"e":1925,"g":0.043},{"e":1927,"g":0.040},{"e":1930,"g":0.048},{"e":1932,"g":0.036},{"e":1935,"g":0.045},{"e":1937,"g":0.050},{"e":1940,"g":0.041},{"e":1942,"g":0.033},{"e":1945,"g":0.047},{"e":1947,"g":0.044},{"e":1950,"g":0.039},{"e":1952,"g":0.053},{"e":1955,"g":0.042},{"e":1957,"g":0.035},{"e":1960,"g":0.048},{"e":1962,"g":0.045},{"e":1965,"g":0.031},{"e":1967,"g":0.050},{"e":1970,"g":0.043},{"e":1972,"g":0.037},{"e":1975,"g":0.047},{"e":1977,"g":0.040},{"e":1980,"g":0.034},{"e":1982,"g":0.049},{"e":1985,"g":0.044},{"e":1987,"g":0.038},{"e":1990,"g":0.046},{"e":1992,"g":0.032},{"e":1995,"g":0.051},{"e":1997,"g":0.042},{"e":1999,"g":0.036},
{"e":1478,"g":0.059},{"e":1503,"g":0.0598},{"e":1523,"g":0.058},{"e":1538,"g":0.056},{"e":1553,"g":0.0625},{"e":1593,"g":0.0607},{"e":1623,"g":0.059},{"e":1663,"g":0.059},{"e":1678,"g":0.056},{"e":1723,"g":0.0575},{"e":1763,"g":0.056},{"e":1768,"g":0.0607},{"e":1783,"g":0.0652},{"e":1823,"g":0.058},{"e":1838,"g":0.0575},{"e":1883,"g":0.0542},{"e":1893,"g":0.056},{"e":1963,"g":0.055},{"e":1993,"g":0.0514},{"e":1983,"g":0.058},{"e":1943,"g":0.053},{"e":1958,"g":0.050},
{"e":1483,"g":0.0336},{"e":1498,"g":0.030},{"e":1518,"g":0.0291},{"e":1533,"g":0.0326},{"e":1553,"g":0.0308},{"e":1573,"g":0.0276},{"e":1598,"g":0.0291},{"e":1623,"g":0.0291},{"e":1638,"g":0.030},{"e":1658,"g":0.0317},{"e":1683,"g":0.0331},{"e":1708,"g":0.0345},{"e":1713,"g":0.0308},{"e":1743,"g":0.030},{"e":1763,"g":0.0276},{"e":1783,"g":0.0291},{"e":1808,"g":0.0308},{"e":1833,"g":0.0326},{"e":1848,"g":0.029},{"e":1873,"g":0.030},{"e":1913,"g":0.0326},{"e":1933,"g":0.030},{"e":1963,"g":0.032},{"e":1978,"g":0.0345},{"e":1998,"g":0.0345},{"e":1988,"g":0.030},
{"e":1693,"g":0.036},{"e":1700,"g":0.0355},{"e":1708,"g":0.035},{"e":1715,"g":0.034},{"e":1722,"g":0.0336},{"e":1730,"g":0.033},{"e":1738,"g":0.032},
{"e":1592,"g":0.1273},{"e":1586,"g":0.104},{"e":1619,"g":0.0909},{"e":1640,"g":0.0885},{"e":1494,"g":0.0877},{"e":1470,"g":0.0827},{"e":1485,"g":0.0749},{"e":1503,"g":0.0694},{"e":1515,"g":0.0642},{"e":1556,"g":0.0737},{"e":1571,"g":0.0716},{"e":1583,"g":0.0694},{"e":1598,"g":0.0716},{"e":1574,"g":0.0654},{"e":1613,"g":0.066},{"e":1637,"g":0.0654},{"e":1652,"g":0.0755},{"e":1670,"g":0.0776},{"e":1679,"g":0.078},{"e":1702,"g":0.076},{"e":1714,"g":0.0716},{"e":1711,"g":0.069},{"e":1696,"g":0.0705},{"e":1723,"g":0.066},{"e":1738,"g":0.0682},{"e":1747,"g":0.0812},{"e":1753,"g":0.078},{"e":1744,"g":0.080},{"e":1792,"g":0.0853},{"e":1830,"g":0.0853},{"e":1818,"g":0.0812},{"e":1801,"g":0.0776},{"e":1783,"g":0.0742},{"e":1786,"g":0.063},{"e":1792,"g":0.067},{"e":1813,"g":0.0676},{"e":1843,"g":0.071},{"e":1866,"g":0.0796},{"e":1863,"g":0.0642},{"e":1890,"g":0.0676},{"e":1914,"g":0.066},{"e":1926,"g":0.0637},{"e":1941,"g":0.066},{"e":1914,"g":0.114},{"e":1956,"g":0.104},{"e":1950,"g":0.0963},{"e":1974,"g":0.097},{"e":1992,"g":0.0957},{"e":1986,"g":0.0842},{"e":1965,"g":0.0737},{"e":1968,"g":0.0694},{"e":1932,"g":0.0612},{"e":1768,"g":0.43},
{"e":1544,"g":0.0219},{"e":1538,"g":0.0202},{"e":1604,"g":0.0207},{"e":1628,"g":0.0201},{"e":1652,"g":0.0211},{"e":1699,"g":0.0221},{"e":1699,"g":0.0204},{"e":1792,"g":0.023},{"e":1813,"g":0.0238},{"e":1807,"g":0.0219},{"e":1830,"g":0.0221},{"e":1786,"g":0.0221},{"e":1902,"g":0.024},{"e":1923,"g":0.024},{"e":1962,"g":0.0233},{"e":1995,"g":0.0219},{"e":1479,"g":0.0276},{"e":1512,"g":0.0258},{"e":1518,"g":0.0239},{"e":1530,"g":0.030},{"e":1538,"g":0.0243},{"e":1562,"g":0.0258},{"e":1577,"g":0.029},{"e":1589,"g":0.0278},{"e":1607,"g":0.0265},{"e":1625,"g":0.0237},{"e":1649,"g":0.025},{"e":1613,"g":0.0314},{"e":1673,"g":0.026},{"e":1693,"g":0.0268},{"e":1717,"g":0.0273},{"e":1732,"g":0.028},{"e":1753,"g":0.0265},{"e":1768,"g":0.0258},{"e":1792,"g":0.0268},{"e":1813,"g":0.0285},{"e":1845,"g":0.0285},{"e":1902,"g":0.027},{"e":1926,"g":0.0287},{"e":1980,"g":0.0309},{"e":1992,"g":0.0318},{"e":1464,"g":0.0253},{"e":1967,"g":0.0157},
{"e":1994,"g":0.0381},{"e":1998,"g":0.0381},{"e":2002,"g":0.0381},{"e":2006,"g":0.0381},{"e":2010,"g":0.0381},{"e":2014,"g":0.0381},{"e":2018,"g":0.0381},{"e":2022,"g":0.0381},{"e":2026,"g":0.0381},{"e":2030,"g":0.0381},{"e":2034,"g":0.0381},{"e":2038,"g":0.0381},{"e":2042,"g":0.0381},{"e":2046,"g":0.0381},{"e":2050,"g":0.0381},{"e":2054,"g":0.0381},{"e":2058,"g":0.0381},{"e":2062,"g":0.0381},{"e":2066,"g":0.0381},{"e":2070,"g":0.0381},{"e":2074,"g":0.0381},{"e":2078,"g":0.0381},{"e":2082,"g":0.0381},{"e":2086,"g":0.0381},{"e":2090,"g":0.0381},{"e":2094,"g":0.0381},{"e":2098,"g":0.0381},{"e":2102,"g":0.0381},{"e":2106,"g":0.0381},{"e":2110,"g":0.0381},{"e":2114,"g":0.0381},{"e":2118,"g":0.0381},{"e":2122,"g":0.0381},{"e":2126,"g":0.0381},{"e":2130,"g":0.0381},{"e":2134,"g":0.0381},{"e":2138,"g":0.0381},{"e":2142,"g":0.0381},{"e":2146,"g":0.0381},{"e":2150,"g":0.0381},{"e":2154,"g":0.0381},{"e":2158,"g":0.0381},{"e":2162,"g":0.0381},{"e":2166,"g":0.0381},{"e":2170,"g":0.0381},{"e":2174,"g":0.0381},{"e":2178,"g":0.0381},{"e":2182,"g":0.0381},{"e":2186,"g":0.0381},{"e":2190,"g":0.0381},{"e":2194,"g":0.0381},{"e":2198,"g":0.0381},{"e":2202,"g":0.0381},{"e":2206,"g":0.0381},{"e":2210,"g":0.0381},{"e":2214,"g":0.0381},{"e":2218,"g":0.0381},{"e":2222,"g":0.0381},{"e":2226,"g":0.0381},{"e":2230,"g":0.0381},{"e":2234,"g":0.0381},{"e":2238,"g":0.0381},{"e":2242,"g":0.0381},{"e":2246,"g":0.0381},{"e":2250,"g":0.0381}
]},
"layer": [
 {
  "data": {"name": "pts"},
  "mark": {"type": "point", "filled": false, "size": 44, "strokeWidth": 1, "opacity": 1},
  "encoding": {
   "x": {"field": "e", "type": "quantitative", "scale": {"domain": [0, 2290], "nice": false, "zero": false},
    "axis": {"orient": "bottom", "values": [0,100,200,300,400,500,600,700,800,900,1000,1100,1200,1300,1400,1500,1600,1700,1800,1900,2000,2100,2200], "format": "d",
     "labelExpr": "datum.value % 500 === 0 ? datum.label : ''",
     "tickSize": {"condition": {"test": "datum.value % 500 === 0", "value": -14}, "value": -8},
     "labelFontSize": 36, "labelPadding": 30, "labelBaseline": "top",
     "title": "Resonance Energy (eV)", "titleFontSize": 38, "titleY": 101, "titleBaseline": "alphabetic"}},
   "y": {"field": "g", "type": "quantitative", "scale": {"type": "log", "domain": [0.01, 1], "nice": false},
    "axis": {"orient": "left", "values": [0.01,0.02,0.03,0.04,0.05,0.06,0.07,0.08,0.09,0.1,0.2,0.3,0.4,0.5,0.6,0.7,0.8,0.9,1],
     "labelExpr": "datum.value === 1 ? '10⁰' : datum.value === 0.1 ? '10⁻¹' : datum.value === 0.01 ? '10⁻²' : ''",
     "tickSize": {"condition": {"test": "datum.value === 1 || datum.value === 0.5 || datum.value === 0.1 || datum.value === 0.05 || datum.value === 0.01", "value": -15}, "value": -8},
     "labelFontSize": 36, "labelAlign": "left", "labelPadding": 86, "labelBaseline": "middle",
     "title": "Capture Width (eV)", "titleFontSize": 42, "titleX": -90, "titleBaseline": "alphabetic"}},
   "color": {"datum": "JENDL-3.3", "type": "nominal",
    "scale": {"range": ["black"]},
    "legend": {"orient": "none", "legendX": 64, "legendY": 33, "symbolSize": 50, "symbolStrokeWidth": 1.2, "labelOffset": 24}}
  }
 },
 {
  "data": {"values": [{}]},
  "mark": {"type": "rule", "strokeWidth": 2},
  "encoding": {
   "y": {"datum": 0.0381, "type": "quantitative", "axis": null},
   "stroke": {"datum": "Γᵧ=0.0381 eV", "type": "nominal", "scale": {"range": ["blue"]},
    "legend": {"orient": "none", "legendX": 49, "legendY": 45, "symbolSize": 2704, "symbolStrokeWidth": 2, "labelOffset": 12}}
  }
 },
 {
  "data": {"values": [{"e": 0, "g": 1}, {"e": 2290, "g": 0.01}]},
  "mark": {"type": "point", "opacity": 0},
  "encoding": {
   "x": {"field": "e", "type": "quantitative",
    "axis": {"orient": "top", "values": [0,100,200,300,400,500,600,700,800,900,1000,1100,1200,1300,1400,1500,1600,1700,1800,1900,2000,2100,2200], "labels": false,
     "title": "²³⁵U", "titleX": 0, "titleY": -18, "titleAlign": "left", "titleBaseline": "alphabetic", "titleFontSize": 40, "titleAngle": 0,
     "tickSize": {"condition": {"test": "datum.value % 500 === 0", "value": -14}, "value": -8}}},
   "y": {"field": "g", "type": "quantitative",
    "axis": {"orient": "right", "values": [0.01,0.02,0.03,0.04,0.05,0.06,0.07,0.08,0.09,0.1,0.2,0.3,0.4,0.5,0.6,0.7,0.8,0.9,1], "labels": false, "title": null,
     "tickSize": {"condition": {"test": "datum.value === 1 || datum.value === 0.5 || datum.value === 0.1 || datum.value === 0.05 || datum.value === 0.01", "value": -15}, "value": -8}}}
  }
 }
],
"resolve": {"axis": {"x": "independent", "y": "independent"}}
}
